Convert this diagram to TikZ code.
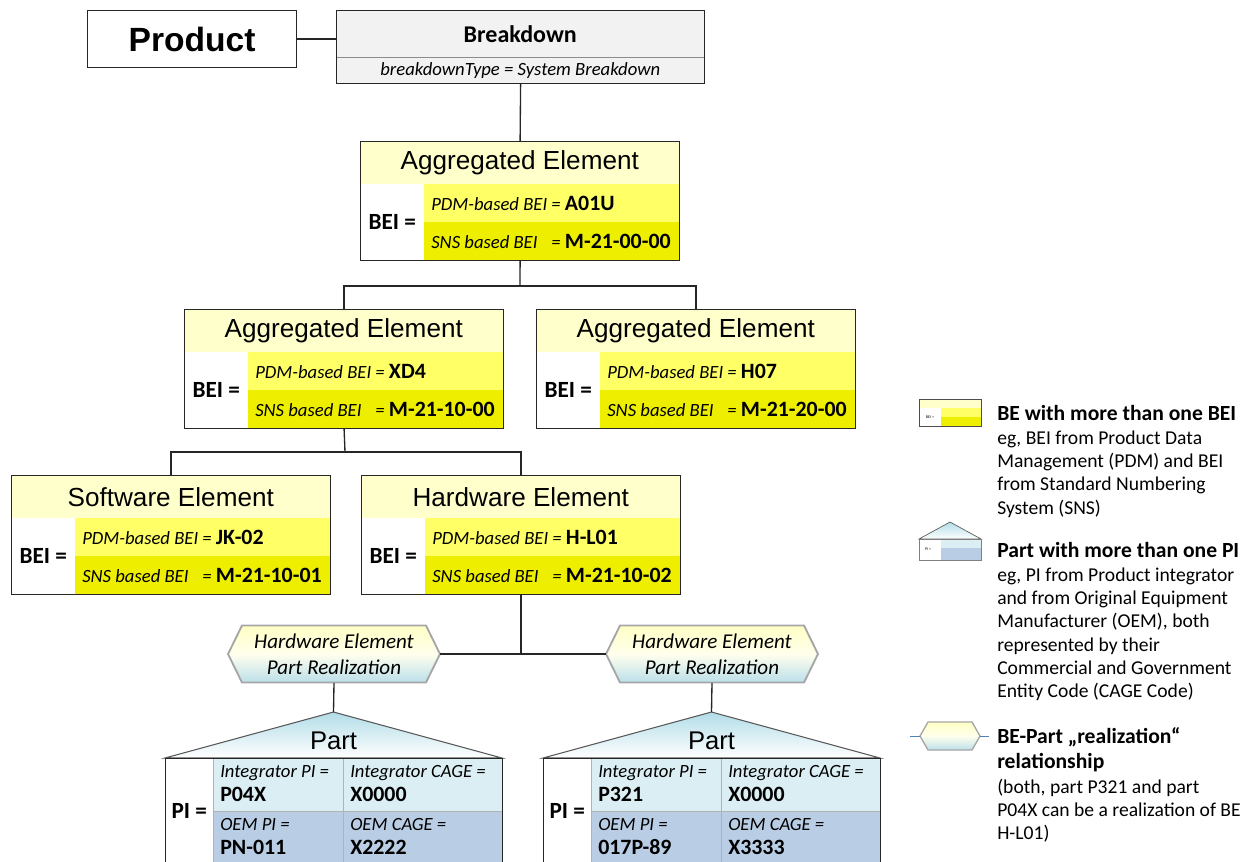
\documentclass[tikz,border=0pt]{standalone}
\usepackage{fontspec}
\setmainfont{Carlito}
\newfontfamily\arialfont{Liberation Sans}
\usetikzlibrary{calc}

\definecolor{aehead}{HTML}{FFFFCC}
\definecolor{aerowa}{HTML}{FFFF66}
\definecolor{aerowb}{HTML}{EEEE00}
\definecolor{bdfill}{HTML}{F2F2F2}
\definecolor{ptrowa}{HTML}{DAEEF3}
\definecolor{ptrowb}{HTML}{B9CDE5}
\definecolor{rooftop}{HTML}{B2DDE8}
\definecolor{hexgray}{HTML}{A6A6A6}
\definecolor{hextop}{HTML}{FFFFC4}
\definecolor{hexbot}{HTML}{BCDFEA}
\definecolor{legblue}{HTML}{4F81BD}

% label / value fonts inside the tables
\newcommand\lbl[1]{{\itshape\fontsize{14}{17}\selectfont #1}}
\newcommand\val[1]{{\bfseries\fontsize{16.4}{19}\selectfont #1}}
\newcommand\lgtitle{\bfseries\fontsize{16.2}{19.5}\selectfont}
\newcommand\lgbody{\mdseries\fontsize{14.7}{17.3}\selectfont}

\tikzset{
  conn/.style={draw=black!85, line width=1pt},
  boxframe/.style={draw=black!85, line width=0.9pt, inner sep=0pt, anchor=north west},
  behead/.style={fill=aehead, anchor=north west, inner sep=0pt,
    minimum width=239.25pt, minimum height=32.25pt,
    font=\arialfont\fontsize{19.6}{22}\selectfont},
  beicell/.style={fill=white, anchor=north west, inner sep=0pt,
    minimum width=48pt, minimum height=57pt,
    font=\bfseries\fontsize{17.4}{20}\selectfont},
  berow/.style={anchor=north west, inner sep=0pt,
    minimum width=191.25pt, minimum height=28.5pt},
  rowtext/.style={anchor=west, inner sep=0pt, font=\fontsize{14}{17}\selectfont},
  beframe/.style={boxframe, minimum width=239.25pt, minimum height=89.25pt},
  roof/.style={draw=black!65, line width=0.8pt, top color=rooftop, bottom color=white},
  parttitle/.style={inner sep=0pt, font=\arialfont\fontsize{19.2}{22}\selectfont},
  picell/.style={fill=white, anchor=north west, inner sep=0pt,
    minimum width=36pt, minimum height=79.5pt,
    font=\bfseries\fontsize{17.4}{20}\selectfont},
  ptcell/.style={anchor=north west, inner sep=0pt, minimum height=39.75pt,
    draw=black!30, line width=0.4pt},
  ptcola/.style={ptcell, minimum width=97.5pt},
  ptcolb/.style={ptcell, minimum width=119.25pt},
  celltext/.style={anchor=north west, inner sep=0pt, align=left,
    font=\fontsize{16.6}{18}\selectfont},
  partframe/.style={boxframe, minimum width=252.75pt, minimum height=84pt},
  hexshape/.style={draw=hexgray, line width=1.4pt, top color=hextop,
    bottom color=hexbot, middle color=white!70!hextop},
  hexbox/.style={inner sep=0pt, minimum width=159pt, minimum height=42.75pt,
    align=center, font=\itshape\fontsize{15.8}{19.5}\selectfont},
  legtext/.style={anchor=north west, inner sep=0pt, align=left, font=\lgbody},
}

% building element with two identifiers: name, left, top, title, PDM value, SNS value
\newcommand\bebox[6]{%
  \node[behead] (#1-h) at (#2,#3) {#4};
  \node[beicell] (#1-b) at (#2,#3+43) {BEI =};
  \node[berow,fill=aerowa] (#1-p) at (#2+64,#3+43) {};
  \node[berow,fill=aerowb] (#1-s) at (#2+64,#3+81) {};
  \node[rowtext] (#1-pt) at (#2+71,#3+62) {\lbl{PDM-based BEI =} \val{#5}};
  \node[rowtext] (#1-st) at (#2+71,#3+100)
    {\rlap{\lbl{SNS based BEI}}\hphantom{\lbl{PDM-based BEI }}\lbl{=} \val{#6}};
  \node[beframe] (#1) at (#2,#3) {};
}

% part with two identifiers: name, left, integrator PI, integrator CAGE, OEM PI, OEM CAGE
\newcommand\partbox[6]{%
  \coordinate (#1-apex) at (#2+168.5,712);
  \path[roof] (#2,758) -- (#1-apex) -- (#2+337,758) -- cycle;
  \node[parttitle] (#1-t) at (#2+168.5,741) {Part};
  \node[picell] (#1-pi) at (#2,758) {PI =};
  \node[ptcola,fill=ptrowa] (#1-a) at (#2+48,758) {};
  \node[ptcolb,fill=ptrowa] (#1-b) at (#2+178,758) {};
  \node[ptcola,fill=ptrowb] (#1-c) at (#2+48,811) {};
  \node[ptcolb,fill=ptrowb] (#1-d) at (#2+178,811) {};
  \node[celltext] (#1-at) at (#2+55,765) {\lbl{Integrator PI =}\\\val{#3}};
  \node[celltext] (#1-bt) at (#2+185,765) {\lbl{Integrator CAGE =}\\\val{#4}};
  \node[celltext] (#1-ct) at (#2+55,818) {\lbl{OEM PI =}\\\val{#5}};
  \node[celltext] (#1-dt) at (#2+185,818) {\lbl{OEM CAGE =}\\\val{#6}};
  \node[partframe] (#1) at (#2,758) {};
}

% realization hexagon: name, centre x, centre y, text
\newcommand\hexnode[4]{%
  \path[hexshape] (#2-106,#3) -- (#2-92,#3-28.5) -- (#2+92,#3-28.5) -- (#2+106,#3)
    -- (#2+92,#3+28.5) -- (#2-92,#3+28.5) -- cycle;
  \node[hexbox] (#1) at (#2,#3) {#4};
}

\begin{document}
\begin{tikzpicture}[x=0.75pt,y=-0.75pt]
\useasboundingbox (0,0) rectangle (1252,861);
\clip (0,0) rectangle (1252,861);

% product and breakdown
\node[boxframe, fill=white, minimum width=156.75pt, minimum height=42.75pt,
  font=\arialfont\bfseries\fontsize{25.2}{28}\selectfont] (prod) at (87,10) {Product};
\node[anchor=north west, inner sep=0pt, fill=bdfill, minimum width=276pt, minimum height=35.25pt,
  font=\bfseries\fontsize{18}{21}\selectfont] (bd-h) at (336,10) {Breakdown};
\node[anchor=north west, inner sep=0pt, fill=bdfill, minimum width=276pt, minimum height=19.5pt,
  font=\itshape\fontsize{14}{16}\selectfont] (bd-s) at (336,57) {breakdownType = System Breakdown};
\draw[black!45, line width=0.6pt] (bd-s.north west) -- (bd-s.north east);
\node[boxframe, minimum width=276pt, minimum height=54.75pt] (bd) at (336,10) {};

% breakdown elements
\bebox{ae0}{360}{141}{Aggregated Element}{A01U}{M-21-00-00}
\bebox{ae1}{184}{309}{Aggregated Element}{XD4}{M-21-10-00}
\bebox{ae2}{536}{309}{Aggregated Element}{H07}{M-21-20-00}
\bebox{sw}{11}{475}{Software Element}{JK-02}{M-21-10-01}
\bebox{hw}{361}{475}{Hardware Element}{H-L01}{M-21-10-02}

% realizations and parts
\hexnode{hx1}{334}{654}{Hardware Element\\Part Realization}
\hexnode{hx2}{712}{654}{Hardware Element\\Part Realization}
\partbox{pt1}{165}{P04X}{X0000}{PN-011}{X2222}
\partbox{pt2}{543}{P321}{X0000}{017P-89}{X3333}

% connectors
\draw[conn] (prod.east) -- (prod.east -| bd.west);
\draw[conn] (bd.south) -- (ae0.north);
\coordinate (j1) at (520,286);
\draw[conn] (ae0.south) -- (j1);
\draw[conn] (j1) -| (ae1.north);
\draw[conn] (j1) -| (ae2.north);
\coordinate (j2) at (345,452);
\draw[conn] (ae1.south) -- (j2);
\draw[conn] (j2) -| (sw.north);
\draw[conn] (j2) -| (hw.north);
\draw[conn] (hw.south) |- (hx1.east);
\draw[conn] (hw.south) |- (hx2.west);
\draw[conn] (hx1.south) -- (pt1-apex);
\draw[conn] (hx2.south) -- (pt2-apex);

% legend: building element icon
\fill[aehead] (919,399) rectangle (981,408);
\fill[white] (919,408) rectangle (941,426);
\fill[aerowa] (941,408) rectangle (981,417);
\fill[aerowb] (941,417) rectangle (981,426);
\draw[black!70, line width=0.5pt] (919,399) rectangle (981,426);
\node[inner sep=0pt, font=\fontsize{3}{3}\selectfont] (ic1) at (930,417) {BEI =};
\node[legtext] (lg1) at (997,405) {{\lgtitle BE with more than one BEI}\\[1pt]
  eg, BEI from Product Data\\Management (PDM) and BEI\\from Standard Numbering\\System (SNS)};

% legend: part icon
\path[roof, line width=0.5pt] (919,539) -- (950,522) -- (981,539) -- cycle;
\fill[white] (919,539) rectangle (941,560);
\fill[ptrowa] (941,539) rectangle (981,548);
\fill[ptrowb] (941,548) rectangle (981,560);
\draw[black!50, line width=0.5pt] (919,539) rectangle (981,560);
\node[inner sep=0pt, font=\fontsize{3}{3}\selectfont] (ic2) at (928,549) {PI =};
\node[legtext] (lg2) at (997,542) {{\lgtitle Part with more than one PI}\\[1pt]
  eg, PI from Product integrator\\and from Original Equipment\\Manufacturer (OEM), both\\represented by their\\Commercial and Government\\Entity Code (CAGE Code)};

% legend: realization icon
\path[hexshape, line width=1pt] (920,736) -- (928,722) -- (972,722) -- (980,736) -- (972,750) -- (928,750) -- cycle;
\draw[legblue, line width=0.6pt] (910,736) -- (920,736);
\draw[legblue, line width=0.6pt] (980,736) -- (989,736);
\node[legtext] (lg3) at (997,727) {{\lgtitle BE-Part „realization“}\\[2pt]
  {\lgtitle relationship}\\[1pt]
  (both, part P321 and part\\P04X can be a realization of BE\\H-L01)};
\end{tikzpicture}
\end{document}
